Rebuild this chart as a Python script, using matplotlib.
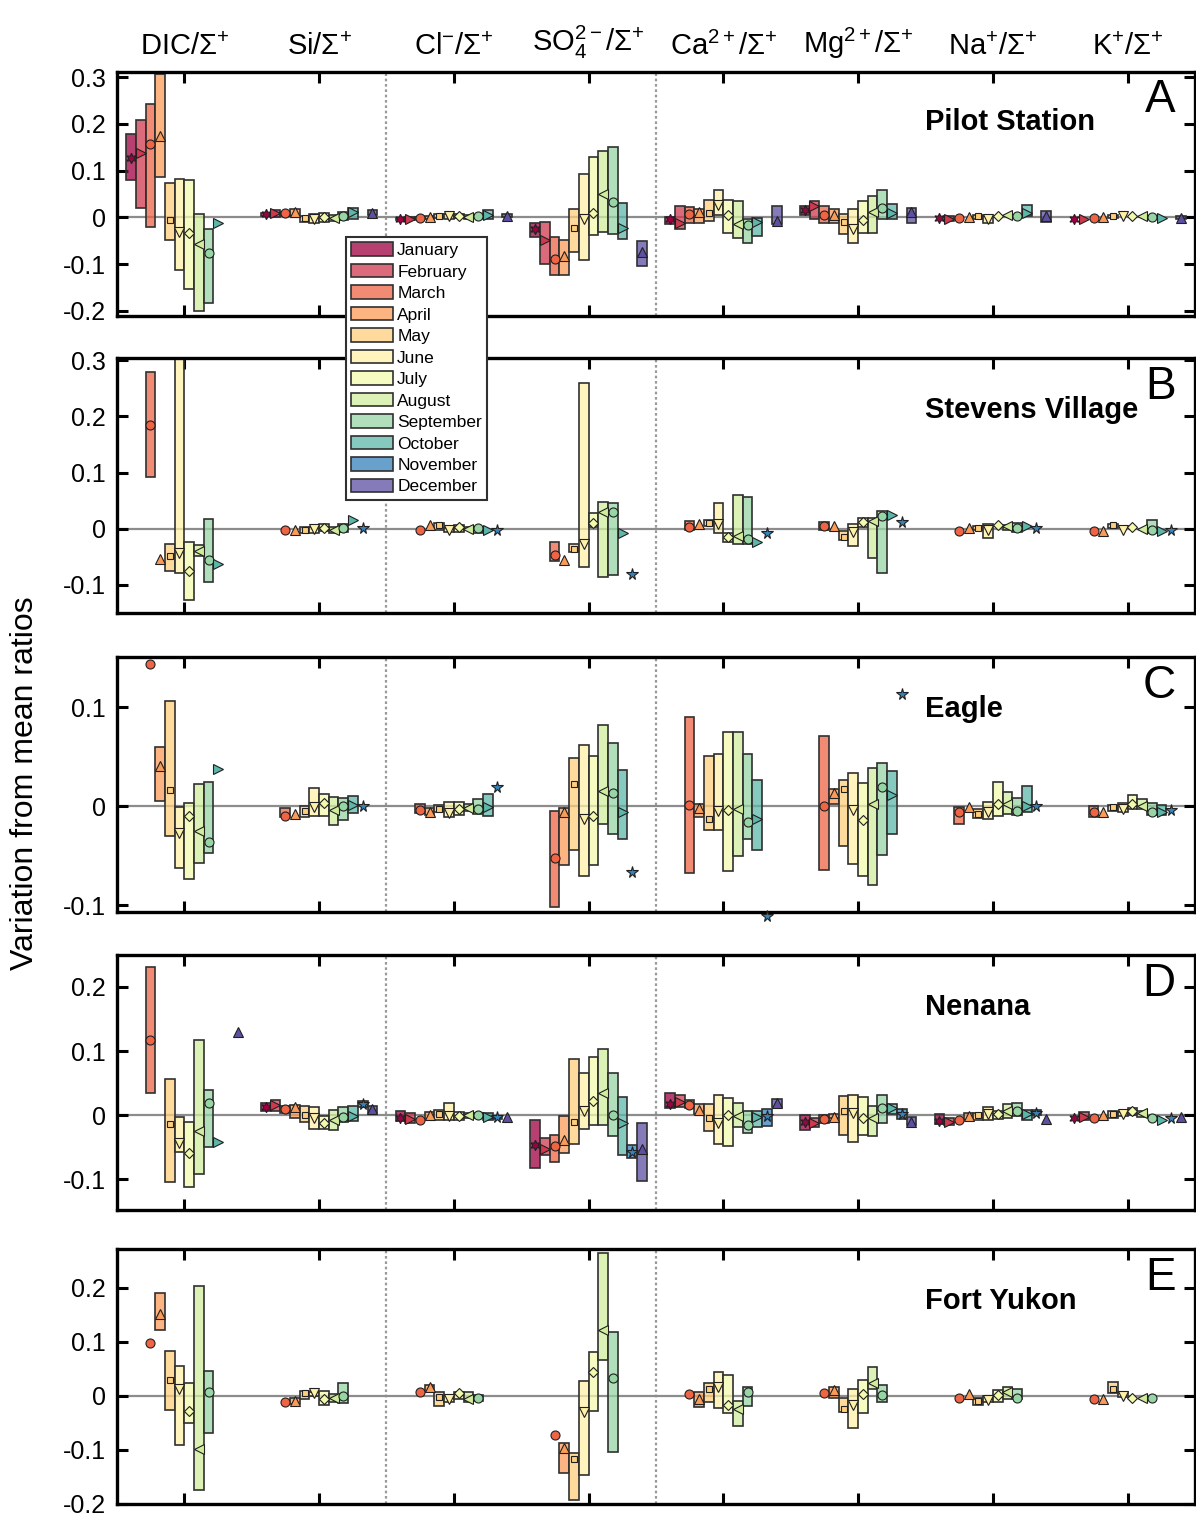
import numpy as np
import matplotlib.pyplot as plt
from matplotlib.patches import Patch
import matplotlib.transforms as mtransforms

plt.rcParams['font.family'] = ['Liberation Sans', 'DejaVu Sans']
plt.rcParams['mathtext.fontset'] = 'custom'
plt.rcParams['mathtext.rm'] = 'Liberation Sans'
plt.rcParams['mathtext.it'] = 'Liberation Sans:italic'
plt.rcParams['mathtext.bf'] = 'Liberation Sans:bold'
plt.rcParams['axes.unicode_minus'] = False

nan = np.nan

months = ['January', 'February', 'March', 'April', 'May', 'June', 'July',
          'August', 'September', 'October', 'November', 'December']
ratio_labels = ['DIC/Σ$^{+}$', 'Si/Σ$^{+}$', 'Cl$^{-}$/Σ$^{+}$', 'SO$_4^{2-}$/Σ$^{+}$',
                'Ca$^{2+}$/Σ$^{+}$', 'Mg$^{2+}$/Σ$^{+}$', 'Na$^{+}$/Σ$^{+}$', 'K$^{+}$/Σ$^{+}$']
stations = ['Pilot Station', 'Stevens Village', 'Eagle', 'Nenana', 'Fort Yukon']
letters = ['A', 'B', 'C', 'D', 'E']

# one row per ratio (DIC, Si, Cl, SO4, Ca, Mg, Na, K), one column per month
pilot_mean = [
    [0.128, 0.137, 0.156, 0.175, -0.006, -0.031, -0.033, -0.058, -0.076, -0.011, nan, nan],
    [0.007, 0.010, 0.009, 0.011, -0.002, -0.004, 0.000, -0.002, 0.003, 0.011, nan, 0.010],
    [-0.004, -0.003, -0.002, 0.000, 0.003, 0.002, 0.002, 0.001, 0.002, 0.006, nan, 0.004],
    [-0.024, -0.049, -0.090, -0.082, -0.023, -0.003, 0.010, 0.049, 0.034, -0.022, nan, -0.075],
    [-0.004, -0.011, 0.008, 0.011, 0.010, 0.026, 0.005, -0.015, -0.016, -0.009, nan, -0.008],
    [0.015, 0.024, 0.005, 0.006, -0.009, -0.024, -0.006, 0.011, 0.020, 0.009, nan, 0.011],
    [-0.001, -0.003, -0.002, 0.000, 0.002, -0.004, 0.003, 0.005, 0.004, 0.010, nan, 0.002],
    [-0.003, -0.003, -0.002, 0.000, 0.002, 0.002, 0.004, 0.003, 0.000, -0.002, nan, -0.001],
]
pilot_lo = [
    [0.080, 0.021, -0.020, 0.086, -0.049, -0.113, -0.154, -0.201, -0.184, nan, nan, nan],
    [0.004, 0.000, 0.004, 0.004, -0.009, -0.011, -0.010, -0.008, -0.005, -0.004, nan, 0.005],
    [-0.006, -0.006, -0.004, -0.003, -0.002, -0.003, -0.002, -0.003, -0.002, -0.003, nan, 0.001],
    [-0.042, -0.100, -0.124, -0.124, -0.073, -0.091, -0.038, -0.031, -0.035, -0.046, nan, -0.105],
    [-0.014, -0.025, -0.011, -0.013, -0.008, 0.006, -0.033, -0.045, -0.054, -0.040, nan, -0.015],
    [0.006, -0.003, -0.011, -0.011, -0.036, -0.054, -0.033, -0.033, -0.003, -0.003, nan, -0.011],
    [nan, -0.008, nan, nan, -0.004, -0.011, nan, nan, nan, 0.003, nan, -0.010],
    [nan, nan, nan, nan, -0.002, nan, nan, nan, nan, nan, nan, -0.004],
]
pilot_hi = [
    [0.179, 0.209, 0.243, 0.306, 0.074, 0.083, 0.080, 0.008, -0.024, nan, nan, nan],
    [0.010, 0.016, 0.012, 0.017, 0.004, 0.008, 0.009, 0.006, 0.011, 0.021, nan, 0.015],
    [-0.001, 0.001, 0.001, 0.004, 0.008, 0.007, 0.007, 0.005, 0.006, 0.016, nan, 0.007],
    [-0.013, -0.009, -0.041, -0.049, 0.017, 0.093, 0.130, 0.143, 0.150, 0.030, nan, -0.051],
    [0.001, 0.024, 0.022, 0.019, 0.038, 0.059, 0.038, 0.035, -0.003, -0.001, nan, 0.024],
    [0.024, 0.036, 0.024, 0.019, 0.007, 0.019, 0.035, 0.046, 0.059, 0.028, nan, 0.021],
    [nan, 0.003, nan, nan, 0.005, 0.004, nan, nan, nan, 0.027, nan, 0.013],
    [nan, nan, nan, nan, 0.005, nan, nan, nan, nan, nan, nan, 0.002],
]

stevens_mean = [
    [nan, nan, 0.185, -0.054, -0.049, -0.044, -0.076, -0.039, -0.055, -0.063, nan, nan],
    [nan, nan, -0.002, -0.002, -0.002, -0.001, 0.001, -0.002, 0.002, 0.016, 0.001, nan],
    [nan, nan, -0.002, 0.006, 0.006, -0.002, 0.004, 0.000, 0.001, -0.002, -0.002, nan],
    [nan, nan, -0.047, -0.055, -0.036, -0.027, 0.011, 0.029, 0.030, -0.007, -0.081, nan],
    [nan, nan, 0.004, 0.008, 0.011, 0.009, -0.015, -0.012, -0.018, -0.023, -0.007, nan],
    [nan, nan, 0.005, 0.005, -0.014, -0.005, 0.012, 0.014, 0.023, 0.024, 0.012, nan],
    [nan, nan, -0.004, 0.001, 0.001, -0.002, 0.007, 0.005, 0.002, 0.005, 0.001, nan],
    [nan, nan, -0.004, -0.004, 0.006, -0.002, 0.003, 0.000, -0.002, -0.004, -0.003, nan],
]
stevens_lo = [
    [nan, nan, 0.093, nan, -0.076, -0.078, -0.126, -0.049, -0.095, nan, nan, nan],
    [nan, nan, nan, nan, -0.007, -0.007, -0.004, -0.007, -0.005, nan, nan, nan],
    [nan, nan, nan, nan, -0.002, -0.006, -0.006, -0.003, -0.007, nan, nan, nan],
    [nan, nan, -0.057, nan, -0.042, -0.068, 0.003, -0.085, -0.083, nan, nan, nan],
    [nan, nan, -0.002, nan, 0.005, -0.008, -0.023, -0.027, -0.027, nan, nan, nan],
    [nan, nan, -0.002, nan, -0.020, -0.030, 0.004, -0.052, -0.079, nan, nan, nan],
    [nan, nan, nan, nan, -0.003, -0.017, nan, -0.003, -0.005, nan, nan, nan],
    [nan, nan, nan, nan, 0.001, nan, nan, nan, -0.007, nan, nan, nan],
]
stevens_hi = [
    [nan, nan, 0.279, nan, -0.028, 0.310, -0.023, -0.029, 0.017, nan, nan, nan],
    [nan, nan, nan, nan, 0.004, 0.004, 0.008, 0.004, 0.009, nan, nan, nan],
    [nan, nan, nan, nan, 0.011, 0.002, 0.006, 0.003, 0.003, nan, nan, nan],
    [nan, nan, -0.023, nan, -0.027, 0.259, 0.028, 0.047, 0.046, nan, nan, nan],
    [nan, nan, 0.013, nan, 0.016, 0.046, -0.007, 0.060, 0.056, nan, nan, nan],
    [nan, nan, 0.012, nan, -0.004, 0.008, 0.019, 0.019, 0.031, nan, nan, nan],
    [nan, nan, nan, nan, 0.005, 0.009, nan, 0.007, 0.011, nan, nan, nan],
    [nan, nan, nan, nan, 0.009, nan, nan, nan, 0.015, nan, nan, nan],
]

eagle_mean = [
    [nan, nan, 0.144, 0.041, 0.016, -0.027, -0.010, -0.025, -0.036, 0.038, nan, nan],
    [nan, nan, -0.010, -0.008, -0.005, -0.001, 0.003, -0.004, 0.000, 0.001, 0.000, nan],
    [nan, nan, -0.004, -0.006, -0.003, -0.007, -0.003, -0.002, -0.003, -0.001, 0.019, nan],
    [nan, nan, -0.052, -0.006, 0.023, -0.013, -0.010, 0.015, 0.013, -0.006, -0.067, nan],
    [nan, nan, 0.001, -0.002, -0.013, -0.005, -0.004, -0.003, -0.016, -0.013, -0.111, nan],
    [nan, nan, 0.000, 0.013, 0.017, -0.004, -0.014, 0.002, 0.019, 0.011, 0.114, nan],
    [nan, nan, -0.006, -0.001, -0.008, -0.006, 0.002, 0.002, -0.005, 0.000, 0.000, nan],
    [nan, nan, -0.006, -0.006, -0.001, -0.003, 0.002, 0.000, -0.006, -0.006, -0.004, nan],
]
eagle_lo = [
    [nan, nan, nan, 0.005, -0.030, -0.062, -0.074, -0.057, -0.047, nan, nan, nan],
    [nan, nan, -0.011, nan, -0.011, -0.010, -0.010, -0.019, -0.014, -0.007, nan, nan],
    [nan, nan, -0.007, -0.009, -0.006, -0.011, -0.009, -0.005, -0.008, -0.010, nan, nan],
    [nan, nan, -0.102, -0.059, -0.044, -0.071, -0.059, -0.018, -0.028, -0.033, nan, nan],
    [nan, nan, -0.068, -0.011, -0.024, -0.024, -0.066, -0.050, -0.033, -0.044, nan, nan],
    [nan, nan, -0.064, 0.002, -0.040, -0.058, -0.071, -0.080, -0.049, -0.028, nan, nan],
    [nan, nan, -0.018, nan, -0.012, -0.013, -0.010, -0.008, -0.009, -0.006, nan, nan],
    [nan, nan, -0.011, nan, -0.005, -0.006, -0.003, -0.003, -0.009, -0.009, nan, nan],
]
eagle_hi = [
    [nan, nan, nan, 0.060, 0.106, -0.001, 0.003, 0.023, 0.025, nan, nan, nan],
    [nan, nan, -0.002, nan, 0.000, 0.018, 0.012, 0.009, 0.008, 0.010, nan, nan],
    [nan, nan, 0.002, -0.002, 0.001, 0.004, 0.004, 0.002, 0.007, 0.012, nan, nan],
    [nan, nan, -0.005, -0.002, 0.049, 0.062, 0.051, 0.082, 0.064, 0.037, nan, nan],
    [nan, nan, 0.090, 0.002, 0.051, 0.053, 0.075, 0.075, 0.053, 0.027, nan, nan],
    [nan, nan, 0.071, 0.017, 0.027, 0.034, 0.024, 0.039, 0.044, 0.036, nan, nan],
    [nan, nan, -0.001, nan, -0.003, 0.004, 0.025, 0.014, 0.008, 0.021, nan, nan],
    [nan, nan, 0.000, nan, 0.001, 0.003, 0.011, 0.007, 0.003, 0.001, nan, nan],
]

nenana_mean = [
    [nan, nan, 0.117, nan, -0.014, -0.043, -0.059, -0.024, 0.019, -0.042, nan, 0.129],
    [0.013, 0.016, 0.009, 0.013, 0.000, -0.004, -0.013, -0.007, -0.003, -0.001, 0.018, 0.009],
    [-0.004, -0.006, -0.007, 0.000, 0.001, -0.001, -0.001, 0.000, 0.000, -0.003, -0.003, -0.003],
    [-0.047, -0.053, -0.048, -0.039, -0.010, 0.006, 0.022, 0.034, 0.000, -0.012, -0.057, -0.053],
    [0.018, 0.020, 0.016, 0.008, -0.004, -0.013, 0.000, -0.001, -0.016, -0.003, -0.002, 0.019],
    [-0.011, -0.012, -0.006, -0.003, 0.007, 0.003, -0.005, -0.004, 0.011, 0.011, 0.001, -0.010],
    [-0.009, -0.010, -0.008, -0.001, 0.000, 0.002, 0.001, 0.006, 0.007, 0.001, 0.003, -0.006],
    [-0.004, -0.003, -0.004, 0.000, 0.001, 0.001, 0.006, 0.003, -0.004, -0.007, -0.004, -0.003],
]
nenana_lo = [
    [nan, nan, 0.035, nan, -0.104, -0.057, -0.112, -0.092, -0.049, nan, nan, nan],
    [0.007, 0.007, 0.003, -0.005, -0.010, -0.021, -0.021, -0.023, -0.010, -0.009, 0.013, 0.004],
    [-0.009, -0.012, nan, -0.007, -0.007, -0.007, -0.008, -0.005, -0.005, -0.008, -0.006, nan],
    [-0.083, -0.063, -0.073, -0.059, -0.045, -0.021, -0.015, -0.016, -0.032, -0.063, -0.067, -0.103],
    [0.011, 0.013, 0.011, 0.001, -0.025, -0.045, -0.048, -0.018, -0.028, -0.018, -0.017, 0.013],
    [-0.023, -0.018, -0.012, -0.004, -0.031, -0.042, -0.031, -0.032, -0.012, 0.002, -0.006, -0.016],
    [-0.014, -0.015, nan, -0.007, -0.007, -0.007, -0.006, -0.004, -0.002, -0.007, 0.000, nan],
    [nan, -0.008, nan, nan, -0.004, -0.001, 0.000, -0.003, nan, nan, nan, nan],
]
nenana_hi = [
    [nan, nan, 0.231, nan, 0.057, -0.003, -0.010, 0.118, 0.040, nan, nan, nan],
    [0.019, 0.023, 0.014, 0.016, 0.015, 0.013, -0.002, 0.008, 0.013, 0.015, 0.022, 0.015],
    [0.007, 0.003, nan, 0.005, 0.008, 0.019, 0.005, 0.004, 0.004, 0.003, -0.001, nan],
    [-0.007, -0.036, -0.031, -0.001, 0.087, 0.066, 0.091, 0.103, 0.065, 0.029, -0.047, -0.013],
    [0.034, 0.031, 0.023, 0.018, 0.018, 0.031, 0.027, 0.019, 0.007, 0.006, 0.010, 0.025],
    [0.000, -0.004, 0.000, 0.001, 0.030, 0.032, 0.029, 0.014, 0.031, 0.018, 0.010, -0.003],
    [0.001, -0.004, nan, 0.003, 0.003, 0.013, 0.006, 0.017, 0.019, 0.008, 0.008, nan],
    [nan, 0.005, nan, nan, 0.006, 0.005, 0.011, 0.007, nan, nan, nan, nan],
]

yukon_mean = [
    [nan, nan, 0.098, 0.152, 0.029, 0.012, -0.028, -0.098, 0.008, nan, nan, nan],
    [nan, nan, -0.011, -0.009, 0.006, 0.005, -0.006, -0.004, -0.001, nan, nan, nan],
    [nan, nan, 0.008, 0.016, -0.002, -0.005, 0.005, -0.005, -0.004, nan, nan, nan],
    [nan, nan, -0.073, -0.096, -0.116, -0.029, 0.044, 0.122, 0.034, nan, nan, nan],
    [nan, nan, 0.004, -0.006, 0.012, 0.016, -0.016, -0.025, 0.008, nan, nan, nan],
    [nan, nan, 0.006, 0.011, -0.025, -0.016, 0.003, 0.024, 0.002, nan, nan, nan],
    [nan, nan, -0.004, 0.004, -0.009, -0.007, 0.001, 0.008, -0.003, nan, nan, nan],
    [nan, nan, -0.006, -0.005, 0.012, 0.000, -0.004, -0.004, -0.004, nan, nan, nan],
]
yukon_lo = [
    [nan, nan, nan, 0.122, -0.026, -0.090, -0.050, -0.174, -0.068, nan, nan, nan],
    [nan, nan, nan, -0.015, -0.005, 0.000, -0.017, -0.011, -0.014, nan, nan, nan],
    [nan, nan, nan, 0.008, -0.019, -0.012, -0.006, -0.012, -0.009, nan, nan, nan],
    [nan, nan, nan, -0.143, -0.193, -0.146, -0.028, 0.067, -0.104, nan, nan, nan],
    [nan, nan, nan, -0.020, -0.011, -0.022, -0.031, -0.056, -0.019, nan, nan, nan],
    [nan, nan, nan, -0.003, -0.029, -0.059, -0.031, 0.012, -0.011, nan, nan, nan],
    [nan, nan, nan, nan, -0.017, -0.012, -0.012, -0.006, -0.006, nan, nan, nan],
    [nan, nan, nan, nan, 0.006, -0.002, nan, nan, nan, nan, nan, nan],
]
yukon_hi = [
    [nan, nan, nan, 0.191, 0.083, 0.055, 0.024, 0.204, 0.047, nan, nan, nan],
    [nan, nan, nan, -0.003, 0.009, 0.008, 0.009, 0.004, 0.023, nan, nan, nan],
    [nan, nan, nan, 0.020, 0.008, 0.002, 0.008, 0.008, 0.002, nan, nan, nan],
    [nan, nan, nan, -0.088, -0.106, 0.028, 0.081, 0.264, 0.118, nan, nan, nan],
    [nan, nan, nan, 0.008, 0.023, 0.045, 0.039, -0.009, 0.017, nan, nan, nan],
    [nan, nan, nan, 0.017, -0.003, 0.012, 0.029, 0.053, 0.020, nan, nan, nan],
    [nan, nan, nan, nan, -0.003, -0.001, 0.011, 0.016, 0.013, nan, nan, nan],
    [nan, nan, nan, nan, 0.025, 0.008, nan, nan, nan, nan, nan, nan],
]

panel_data = [
    (pilot_mean, pilot_lo, pilot_hi),
    (stevens_mean, stevens_lo, stevens_hi),
    (eagle_mean, eagle_lo, eagle_hi),
    (nenana_mean, nenana_lo, nenana_hi),
    (yukon_mean, yukon_lo, yukon_hi),
]
panel_ylim = [(-0.211, 0.311), (-0.150, 0.304), (-0.107, 0.151), (-0.148, 0.250), (-0.200, 0.272)]
panel_yticks = [[-0.2, -0.1, 0, 0.1, 0.2, 0.3], [-0.1, 0, 0.1, 0.2, 0.3], [-0.1, 0, 0.1],
                [-0.1, 0, 0.1, 0.2], [-0.2, -0.1, 0, 0.1, 0.2]]
# axes boxes in figure fraction (left, bottom, width, height)
panel_rects = [(0.0978, 0.7917, 0.9013, 0.1608), (0.0978, 0.5959, 0.9013, 0.1681),
               (0.0978, 0.3988, 0.9013, 0.1681), (0.0978, 0.2024, 0.9013, 0.1681),
               (0.0978, 0.0086, 0.9013, 0.1681)]

cmap = plt.get_cmap('Spectral')
colors = [cmap(i / 11) for i in range(12)]
box_colors = [(c[0], c[1], c[2], 0.75) for c in colors]
markers = [(6, 1, 0), '>', 'o', '^', 's', 'v', 'D', '<', 'o', '>', '*', '^']
msizes = [7.5, 7, 6.5, 7.5, 4.5, 7.5, 5.5, 7.5, 6.5, 7, 8.5, 7.5]
step = 0.072

fig = plt.figure(figsize=(11.96, 15.17), dpi=100)

for p in range(5):
    ax = fig.add_axes(panel_rects[p])
    mean, lo, hi = panel_data[p]
    ax.axhline(0, color='#8c8c8c', lw=1.6, zorder=0.8)
    for xs in (2.5, 4.5):
        ax.axvline(xs, color='#9a9a9a', lw=1.6, ls=(0, (1.2, 1.2)), zorder=0.5)
    for g in range(8):
        for m in range(12):
            x = g + 1 + (m - 5.5) * step
            if not np.isnan(lo[g][m]):
                ax.bar(x, hi[g][m] - lo[g][m], bottom=lo[g][m], width=step,
                       facecolor=box_colors[m], edgecolor='#303030', linewidth=1.2, zorder=2)
            if not np.isnan(mean[g][m]):
                ax.plot(x, mean[g][m], marker=markers[m], ms=msizes[m], mfc=colors[m],
                        mec='#202020', mew=0.8, ls='none', zorder=3, clip_on=False)
    ax.set_xlim(0.5, 8.5)
    ax.set_ylim(*panel_ylim[p])
    ax.set_xticks(range(1, 9))
    ax.set_yticks(panel_yticks[p])
    ax.set_yticklabels([f'{t:g}' for t in panel_yticks[p]])
    ax.tick_params(direction='in', length=8, width=2.2, top=True, right=True,
                   labelbottom=False, labelsize=18, pad=8)
    for s in ax.spines.values():
        s.set_linewidth(2.4)
    ax.text(0.75, 0.795, stations[p], transform=ax.transAxes, fontsize=21,
            fontweight='bold', ha='left', va='center')
    ax.text(0.982, 0.885, letters[p], transform=ax.transAxes, fontsize=33,
            ha='right', va='center')
    if p == 0:
        trans = mtransforms.blended_transform_factory(ax.transData, fig.transFigure)
        for g, lab in enumerate(ratio_labels):
            ax.text(g + 1, 0.9595, lab, transform=trans, fontsize=21, ha='center', va='bottom')

fig.text(0.021, 0.484, 'Variation from mean ratios', rotation=90, fontsize=23,
         ha='center', va='center')

handles = [Patch(facecolor=box_colors[m], edgecolor='#303030', linewidth=1.2, label=months[m])
           for m in range(12)]
leg = fig.legend(handles=handles, loc='upper left', bbox_to_anchor=(0.2893, 0.8438),
                 borderaxespad=0, fontsize=12.5, handlelength=2.4, handleheight=0.85,
                 handletextpad=0.25, labelspacing=0.32, borderpad=0.3, fancybox=False,
                 framealpha=1, edgecolor='#303030')
leg.get_frame().set_linewidth(1.5)

fig.savefig('out.png', dpi=100)
